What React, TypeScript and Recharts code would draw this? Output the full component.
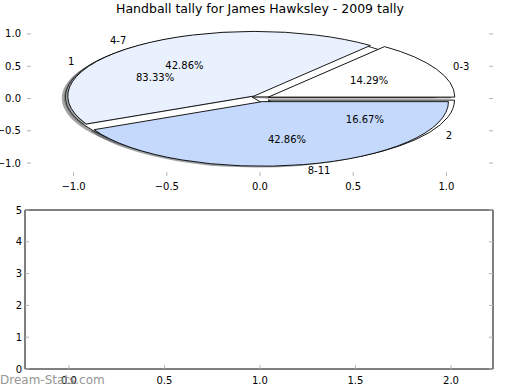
import React from "react";
import { ComposedChart, Scatter, XAxis, YAxis, PieChart, Pie } from "recharts";

// outer pie: age groups
const ageGroups = ["0-3", "4-7", "8-11"];
const agePercents = [14.29, 42.86, 42.86];
const ageColors = ["#ffffff", "#eaf1fe", "#c5d9fd"];

// inner pie (drawn first, with shadow): tally counts
const tallyLabels = ["1", "2"];
const tallyPercents = [83.33, 16.67];
const tallyColors = ["#ffffff", "#ffffff"];

const pieTicks = [-1, -0.5, 0, 0.5, 1];
const barXTicks = [0, 0.5, 1, 1.5, 2];
const barYTicks = [0, 1, 2, 3, 4, 5];

const ageData = ageGroups.map((name, i) => ({ name, value: agePercents[i] }));
const tallyData = tallyLabels.map((name, i) => ({ name, value: tallyPercents[i] }));

const FONT = "'DejaVu Sans', sans-serif";
const TICK_GRAY = "#b3b3b3";

// top axes plot box (pixels)
const PLOT_L = 27;
const PLOT_R = 493;
const PLOT_T = 21;
const PLOT_B = 176;
const PIE_CX = (PLOT_L + PLOT_R) / 2;
const PIE_CY = (PLOT_T + PLOT_B) / 2;
const PIE_R = (PLOT_R - PLOT_L) / 2.5;
const ASPECT = (PLOT_B - PLOT_T) / 2.4 / PIE_R;
const EXPLODE = 0.05;
const RAD = Math.PI / 180;

const fmt1 = (v: number) => (v < 0 ? "\u2212" : "") + Math.abs(v).toFixed(1);
const fmt0 = (v: number) => String(v);

type Side = "bottom" | "top" | "left" | "right";

const makeTick = (side: Side, fmt: ((v: number) => string) | null, gap = 0) => (props: any) => {
  const { x, y, payload } = props;
  const len = 4;
  let line;
  if (side === "bottom") line = <line x1={x} x2={x} y1={y} y2={y - len} stroke={TICK_GRAY} />;
  else if (side === "top") line = <line x1={x} x2={x} y1={y} y2={y + len} stroke={TICK_GRAY} />;
  else if (side === "left") line = <line x1={x} x2={x + len} y1={y} y2={y} stroke={TICK_GRAY} />;
  else line = <line x1={x} x2={x - len} y1={y} y2={y} stroke={TICK_GRAY} />;
  let label = null;
  if (fmt && side === "bottom") {
    label = (
      <text x={x} y={y + gap} textAnchor="middle" dominantBaseline="central" fontSize={10} fill="#000" fontFamily={FONT}>
        {fmt(payload.value)}
      </text>
    );
  } else if (fmt && side === "left") {
    label = (
      <text x={x - gap} y={y} textAnchor="end" dominantBaseline="central" fontSize={10} fill="#000" fontFamily={FONT}>
        {fmt(payload.value)}
      </text>
    );
  }
  return (
    <g>
      {line}
      {label}
    </g>
  );
};

const darken = (hex: string, f: number) => {
  const n = parseInt(hex.slice(1), 16);
  const r = Math.round(((n >> 16) & 255) * f);
  const g = Math.round(((n >> 8) & 255) * f);
  const b = Math.round((n & 255) * f);
  return `rgb(${r},${g},${b})`;
};

const wedgePath = (cx: number, cy: number, r: number, a0: number, a1: number, mid: number, sx: number, sy: number) => {
  const ry = r * ASPECT;
  const ox = cx + EXPLODE * r * Math.cos(mid * RAD) + sx;
  const oy = cy - EXPLODE * ry * Math.sin(mid * RAD) + sy;
  const px = (a: number) => ox + r * Math.cos(a * RAD);
  const py = (a: number) => oy - ry * Math.sin(a * RAD);
  const large = Math.abs(a1 - a0) > 180 ? 1 : 0;
  return `M${ox},${oy} L${px(a0)},${py(a0)} A${r},${ry} 0 ${large} 0 ${px(a1)},${py(a1)} Z`;
};

const shadowLayer = (colors: string[]) => (props: any) => {
  const { cx, cy, outerRadius, startAngle, endAngle, midAngle, index } = props;
  const d = wedgePath(cx, cy, outerRadius, startAngle, endAngle, midAngle, -0.02 * outerRadius, 0.02 * outerRadius * ASPECT);
  return <path d={d} fill={darken(colors[index], 0.3)} fillOpacity={0.5} stroke="none" />;
};

const wedgeLayer = (colors: string[]) => (props: any) => {
  const { cx, cy, outerRadius, startAngle, endAngle, midAngle, index } = props;
  const d = wedgePath(cx, cy, outerRadius, startAngle, endAngle, midAngle, 0, 0);
  return <path d={d} fill={colors[index]} stroke="#000" strokeWidth={0.9} strokeLinejoin="round" />;
};

const textLayer = (props: any) => {
  const { cx, cy, outerRadius, midAngle, percent, name } = props;
  const ry = outerRadius * ASPECT;
  const c = Math.cos(midAngle * RAD);
  const s = Math.sin(midAngle * RAD);
  const ox = cx + EXPLODE * outerRadius * c;
  const oy = cy - EXPLODE * ry * s;
  const lx = ox + 1.1 * outerRadius * c;
  const ly = oy - 1.1 * ry * s;
  const tx = ox + 0.6 * outerRadius * c;
  const ty = oy - 0.6 * ry * s;
  return (
    <g fontFamily={FONT} fontSize={10} fill="#000">
      <text x={lx} y={ly} textAnchor={c > 0 ? "start" : "end"} dominantBaseline="central">
        {name}
      </text>
      <text x={tx} y={ty} textAnchor="middle" dominantBaseline="central">
        {(percent * 100).toFixed(2)}%
      </text>
    </g>
  );
};

const pieCommon = {
  cx: PIE_CX,
  cy: PIE_CY,
  innerRadius: 0,
  outerRadius: PIE_R,
  startAngle: 0,
  endAngle: 360,
  dataKey: "value",
  nameKey: "name",
  fill: "none",
  stroke: "none",
  labelLine: false,
  isAnimationActive: false,
};

export default function App() {
  return (
    <div style={{ position: "absolute", left: 0, top: 0, width: 520, height: 390, background: "#fff", fontFamily: FONT, overflow: "hidden" }}>
      <div style={{ position: "absolute", left: 0, top: 3, width: 520, textAlign: "center", fontSize: 12.5, lineHeight: "12.5px", color: "#000" }}>
        Handball tally for James Hawksley - 2009 tally
      </div>

      <div style={{ position: "absolute", left: 0, top: 0 }}>
        <ComposedChart width={520} height={200} margin={{ top: 0, right: 0, bottom: 0, left: 0 }}>
          <XAxis type="number" dataKey="x" domain={[-1.25, 1.25]} ticks={pieTicks} interval={0} allowDataOverflow height={200 - PLOT_B} axisLine={false} tickLine={false} tickSize={0} tickMargin={0} tick={makeTick("bottom", fmt1, 10)} />
          <XAxis xAxisId="top" orientation="top" type="number" domain={[-1.25, 1.25]} ticks={pieTicks} interval={0} allowDataOverflow height={PLOT_T} axisLine={false} tickLine={false} tickSize={0} tickMargin={0} tick={makeTick("top", null)} />
          <YAxis type="number" dataKey="y" domain={[-1.2, 1.2]} ticks={pieTicks} interval={0} allowDataOverflow width={PLOT_L} axisLine={false} tickLine={false} tickSize={0} tickMargin={0} tick={makeTick("left", fmt1, 6)} />
          <YAxis yAxisId="right" orientation="right" type="number" domain={[-1.2, 1.2]} ticks={pieTicks} interval={0} allowDataOverflow width={520 - PLOT_R} axisLine={false} tickLine={false} tickSize={0} tickMargin={0} tick={makeTick("right", null)} />
          <Scatter data={[]} isAnimationActive={false} />
        </ComposedChart>
      </div>

      <div style={{ position: "absolute", left: 0, top: 0 }}>
        <PieChart width={520} height={200} margin={{ top: 0, right: 0, bottom: 0, left: 0 }}>
          <Pie {...pieCommon} data={tallyData} label={shadowLayer(tallyColors)} />
          <Pie {...pieCommon} data={tallyData} label={wedgeLayer(tallyColors)} />
          <Pie {...pieCommon} data={ageData} label={shadowLayer(ageColors)} />
          <Pie {...pieCommon} data={ageData} label={wedgeLayer(ageColors)} />
          <Pie {...pieCommon} data={tallyData} label={textLayer} />
          <Pie {...pieCommon} data={ageData} label={textLayer} />
        </PieChart>
      </div>

      <div style={{ position: "absolute", left: 0, top: 200 }}>
        <ComposedChart width={520} height={190} margin={{ top: 0, right: 0, bottom: 0, left: 0 }}>
          <XAxis type="number" dataKey="x" domain={[-0.23, 2.22]} ticks={barXTicks} interval={0} allowDataOverflow height={21} axisLine={{ stroke: "#000" }} tickLine={false} tickSize={0} tickMargin={0} tick={makeTick("bottom", fmt1, 11)} />
          <XAxis xAxisId="top" orientation="top" type="number" domain={[-0.23, 2.22]} ticks={barXTicks} interval={0} allowDataOverflow height={10} axisLine={{ stroke: "#000" }} tickLine={false} tickSize={0} tickMargin={0} tick={makeTick("top", null)} />
          <YAxis type="number" dataKey="y" domain={[0, 5]} ticks={barYTicks} interval={0} allowDataOverflow width={25} axisLine={{ stroke: "#000" }} tickLine={false} tickSize={0} tickMargin={0} tick={makeTick("left", fmt0, 3)} />
          <YAxis yAxisId="right" orientation="right" type="number" domain={[0, 5]} ticks={barYTicks} interval={0} allowDataOverflow width={27} axisLine={{ stroke: "#000" }} tickLine={false} tickSize={0} tickMargin={0} tick={makeTick("right", null)} />
          <Scatter data={[]} isAnimationActive={false} />
        </ComposedChart>
      </div>

      <div style={{ position: "absolute", left: 0, top: 374, fontSize: 12, lineHeight: "12px", color: "#8c8c8c", opacity: 0.9, whiteSpace: "nowrap" }}>
        Dream-Stats.com
      </div>
    </div>
  );
}
